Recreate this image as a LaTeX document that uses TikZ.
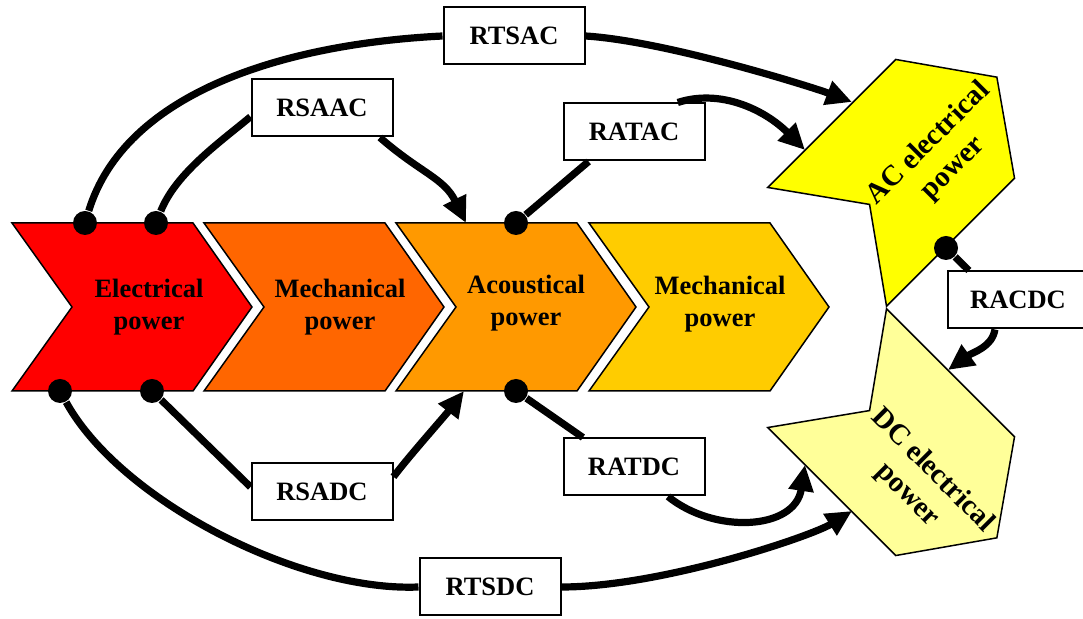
\documentclass[tikz,border=0pt]{standalone}
\usepackage{fontspec}
\setmainfont{Liberation Serif}
\usetikzlibrary{arrows.meta}

\definecolor{elecred}{HTML}{FF0000}
\definecolor{mechorange}{HTML}{FF6600}
\definecolor{acouorange}{HTML}{FF9900}
\definecolor{mechyellow}{HTML}{FFCC00}
\definecolor{acyellow}{HTML}{FFFF00}
\definecolor{dcyellow}{HTML}{FFFF99}

\tikzset{
    chevron/.pic={\draw[pic actions] (-120,-84) -- (61,-84) -- (120,0) -- (61,84) -- (-120,84) -- (-60,0) -- cycle;},
    txt/.style={align=center, font=\bfseries\fontsize{13.25}{16}\selectfont},
    bigtxt/.style={align=center, font=\bfseries\fontsize{14.5}{17.5}\selectfont},
    rbox/.style={draw, fill=white, line width=1pt, minimum width=70.5pt, minimum height=28.5pt, font=\bfseries\fontsize{13.25}{16}\selectfont},
    joint/.style={circle, fill=black, inner sep=0pt, minimum size=12pt},
    link/.style={line width=3.6pt},
    arr/.style={-{Triangle[length=13pt, width=12pt]}}
}

\begin{document}
\begin{tikzpicture}[x=0.5pt, y=-0.5pt, line width=0.75pt]
    \clip (0,0) rectangle (1083,619);

    % Power chain
    \pic[fill=elecred] at (132,307) {chevron};
    \pic[fill=mechorange] at (324,307) {chevron};
    \pic[fill=acouorange] at (516,307) {chevron};
    \pic[fill=mechyellow] at (709,307) {chevron};
    \node[txt] (elec) at (149,307) {Electrical\\power};
    \node[txt] (mech1) at (340,307) {Mechanical\\power};
    \node[txt] (acou) at (526,303) {Acoustical\\power};
    \node[txt] (mech2) at (720,304) {Mechanical\\power};

    % Electrical outputs
    \pic[fill=acyellow, rotate=45] at (912,162) {chevron};
    \pic[fill=dcyellow, rotate=-45] at (912,453) {chevron};
    \node[bigtxt, rotate=45] (acpow) at (941,156) {AC electrical\\power};
    \node[bigtxt, rotate=-45] (dcpow) at (920,483) {DC electrical\\power};

    % Take-off points
    \node[joint] (ea1) at (85,223) {};
    \node[joint] (ea2) at (156,223) {};
    \node[joint] (ea3) at (516,223) {};
    \node[joint] (eb1) at (60,391) {};
    \node[joint] (eb2) at (152,391) {};
    \node[joint] (eb3) at (516,391) {};
    \node[joint] (eac) at (946,248) {};

    % Arrow ends
    \coordinate (acin1) at (852,102);
    \coordinate (acin2) at (805,150);
    \coordinate (acouin1) at (466,223);
    \coordinate (acouin2) at (464,391);
    \coordinate (dcin0) at (948,370);
    \coordinate (dcin1) at (805,465);
    \coordinate (dcin2) at (852,511);

    % Ratios
    \node[rbox] (rtsac) at (514,36) {RTSAC};
    \node[rbox] (rsaac) at (322,108) {RSAAC};
    \node[rbox] (ratac) at (634,132) {RATAC};
    \node[rbox] (racdc) at (1018,300) {RACDC};
    \node[rbox] (ratdc) at (634,467) {RATDC};
    \node[rbox] (rsadc) at (322,492) {RSADC};
    \node[rbox] (rtsdc) at (490,587) {RTSDC};

    % Arrows
    \draw[link] (ea1) .. controls +(40,-130) and +(-160,8) .. (rtsac.west);
    \draw[link, arr] (rtsac.east) .. controls +(80,5) and +(-40,-15) .. (acin1);
    \draw[link] (ea2) .. controls +(20,-50) and +(-30,25) .. (rsaac.187);
    \draw[link, arr] (rsaac.333) .. controls +(40,35) and +(-22,-45) .. (acouin1);
    \draw[link] (ea3) -- (ratac.213);
    \draw[link, arr] (ratac.34) .. controls +(43,-14) and +(-40,-40) .. (acin2);
    \draw[link] (eac) -- (racdc.149);
    \draw[link, arr] (racdc.232) .. controls +(-3,18) and +(25,-18) .. (dcin0);
    \draw[link] (eb1) .. controls +(60,109) and +(-120,5) .. (rtsdc.west);
    \draw[link, arr] (rtsdc.east) .. controls +(100,0) and +(-40,25) .. (dcin2);
    \draw[link] (eb2) -- (rsadc.176);
    \draw[link, arr] (rsadc.12) .. controls +(15,-20) and +(-20,26) .. (acouin2);
    \draw[link] (eb3) -- (ratdc.150);
    \draw[link, arr] (ratdc.319) .. controls +(47,38) and +(-10,65) .. (dcin1);
\end{tikzpicture}
\end{document}
